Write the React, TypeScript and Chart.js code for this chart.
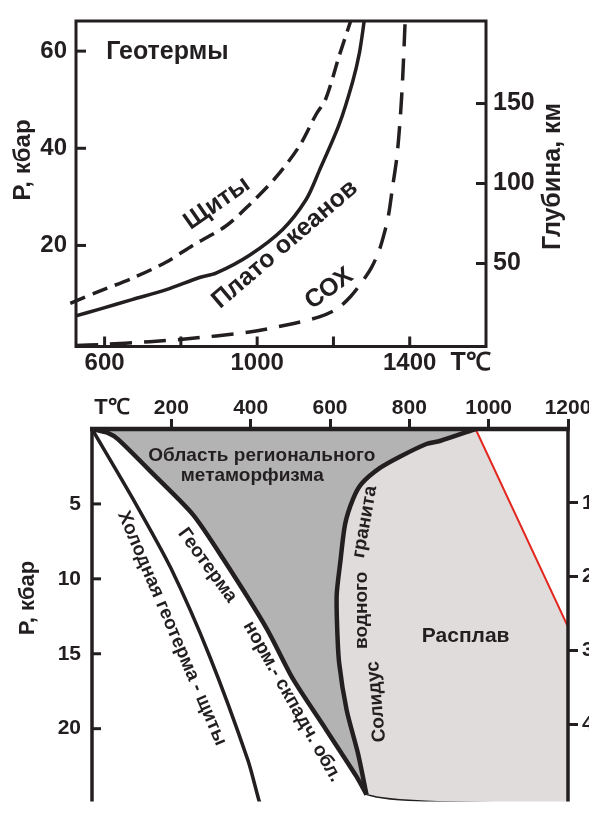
import React, { useEffect, useRef } from "react";
import { Chart, registerables } from "chart.js";
Chart.register(...registerables);

const INK = "#231f20";
const FONT = "'Liberation Sans', Arial, Helvetica, sans-serif";

// ---------- top chart: geotherms (T, °C vs P, kbar) ----------
const topTempTicks = [600, 800, 1000, 1200, 1400];
const topTempLabels = [600, 1000, 1400];
const topPressureTicks = [20, 40, 60];
const topDepthTicks = [50, 100, 150];

const shieldsT = [510, 587, 674, 762, 831, 918, 980, 1050, 1111, 1154, 1180, 1215, 1246];
const shieldsP = [8.1, 10.6, 13.3, 16.6, 20.0, 24.0, 28.4, 34.1, 40.5, 46.9, 50.2, 59.0, 66.4];

const plateauT = [525, 587, 674, 762, 849, 892, 980, 1067, 1128, 1163, 1215, 1250, 1268, 1281];
const plateauP = [5.5, 6.9, 8.9, 10.9, 13.4, 14.3, 18.0, 23.3, 29.4, 35.4, 44.9, 53.6, 59.6, 66.4];

const ridgeT = [525, 590, 718, 805, 980, 1093, 1163, 1210, 1245, 1275, 1300, 1320, 1335, 1345, 1355, 1366, 1374, 1381, 1388];
const ridgeP = [-0.6, -0.4, 0.2, 0.7, 2.2, 3.9, 5.3, 7.0, 9.5, 12.5, 15.5, 19.0, 23.0, 26.5, 32.0, 38.0, 45.0, 53.6, 66.2];

const topNotes = [
  { text: "Геотермы", t: 604, p: 59.7, angle: 0, align: "left" },
  { text: "Щиты", t: 895, p: 28.7, angle: -35, align: "center" },
  { text: "Плато океанов", t: 1073, p: 20.2, angle: -40.6, align: "center" },
  { text: "СОХ", t: 1189, p: 11.1, angle: -36, align: "center" },
];

// ---------- bottom chart: regional metamorphism ----------
const botTempTicks = [200, 400, 600, 800, 1000, 1200];
const botPressureTicks = [5, 10, 15, 20];
const botDepthTicks = [10, 20, 30, 40];

const coldT = [0, 104, 199, 297, 393, 421, 428];
const coldP = [0, 4.7, 9.3, 15.2, 22.1, 24.8, 25.3];

const normalT = [0, 41, 66, 159, 255, 331, 440, 507, 591, 667, 692];
const normalP = [0, 0.27, 0.69, 3.13, 5.73, 8.68, 13.3, 16.7, 20.1, 23.2, 24.4];

const solidusT = [967, 877, 843, 776, 726, 680, 658, 638, 626, 617, 618, 623, 642, 671, 692];
const solidusP = [0, 0.8, 1.0, 1.85, 2.6, 3.64, 4.68, 6.36, 8.88, 11.0, 13.2, 15.6, 18.76, 21.7, 24.4];

const meltBaseT = [692, 726, 776, 900, 1200];
const meltBaseP = [24.4, 24.6, 24.75, 24.9, 25.0];

const liquidusT = [967, 1200];
const liquidusP = [0, 13.2];

const bottomNotes = [
  { text: "Область регионального", t: 428, p: 1.79, angle: 0, big: false },
  { text: "метаморфизма", t: 404, p: 3.11, angle: 0, big: false },
  { text: "Холодная геотерма - щиты", t: 201.6, p: 13.3, angle: 67, big: false },
  { text: "Геотерма", t: 291, p: 9.1, angle: 54, big: false },
  { text: "норм.- скпадч. обл.", t: 505, p: 18.2, angle: 60.5, big: false },
  { text: "Солидус", t: 717, p: 18.2, angle: -95, big: false },
  { text: "водного", t: 679, p: 12.1, angle: -90, big: false },
  { text: "гранита", t: 688, p: 6.2, angle: -80, big: false },
  { text: "Расплав", t: 942, p: 13.86, angle: 0, big: true },
];

const xy = (ts: number[], ps: number[]) => ts.map((t, i) => ({ x: t, y: ps[i] }));

function drawText(ctx: CanvasRenderingContext2D, text: string, x: number, y: number, size: number, angle: number, align: CanvasTextAlign) {
  ctx.save();
  ctx.translate(x, y);
  ctx.rotate((angle * Math.PI) / 180);
  ctx.font = `bold ${size}px ${FONT}`;
  ctx.fillStyle = INK;
  ctx.textAlign = align;
  ctx.textBaseline = "middle";
  ctx.fillText(text, 0, 0);
  ctx.restore();
}

function seg(ctx: CanvasRenderingContext2D, x1: number, y1: number, x2: number, y2: number) {
  ctx.beginPath();
  ctx.moveTo(x1, y1);
  ctx.lineTo(x2, y2);
  ctx.stroke();
}

const tickFont = (size: number) => ({ family: FONT, size, weight: "bold" as const, lineHeight: 1 });
const plain = (v: number) => String(v);

const topDecor = {
  id: "topDecor",
  afterDraw(chart: any) {
    const { ctx, chartArea: a, scales } = chart;
    ctx.save();
    ctx.strokeStyle = INK;
    ctx.lineWidth = 3;
    ctx.strokeRect(a.left, a.top, a.right - a.left, a.bottom - a.top);
    for (const v of topPressureTicks) {
      const y = scales.y.getPixelForValue(v);
      seg(ctx, a.left, y, a.left + 10, y);
    }
    for (const v of topDepthTicks) {
      const y = scales.y1.getPixelForValue(v);
      seg(ctx, a.right - 10, y, a.right, y);
    }
    for (const v of topTempTicks) {
      const x = scales.x.getPixelForValue(v);
      seg(ctx, x, a.bottom, x, a.bottom - 10);
    }
    ctx.restore();
    for (const n of topNotes) {
      drawText(ctx, n.text, scales.x.getPixelForValue(n.t), scales.y.getPixelForValue(n.p), 25, n.angle, n.align as CanvasTextAlign);
    }
    drawText(ctx, "P, кбар", a.left - 52.5, 160, 24, -90, "center");
    drawText(ctx, "Глубина, км", a.right + 67.5, 176.5, 25, -90, "center");
    drawText(ctx, "T℃", scales.x.getPixelForValue(1400) + 61, a.bottom + 17, 25, 0, "center");
  },
};

const bottomDecor = {
  id: "bottomDecor",
  afterDraw(chart: any) {
    const { ctx, chartArea: a, scales } = chart;
    ctx.save();
    ctx.strokeStyle = INK;
    ctx.lineWidth = 3.5;
    seg(ctx, a.left, a.top, a.left, a.bottom);
    seg(ctx, a.right, a.top, a.right, a.bottom);
    ctx.lineWidth = 4.5;
    seg(ctx, a.left - 2, a.top, a.right + 1.75, a.top);
    ctx.lineWidth = 3;
    for (const v of botPressureTicks) {
      const y = scales.y.getPixelForValue(v);
      seg(ctx, a.left, y, a.left + 9, y);
    }
    ctx.restore();
    for (const n of bottomNotes) {
      drawText(ctx, n.text, scales.x.getPixelForValue(n.t), scales.y.getPixelForValue(n.p), n.big ? 21 : 19, n.angle, "center");
    }
    drawText(ctx, "T℃", a.left + 20, a.top - 21.5, 22, 0, "center");
    drawText(ctx, "P, кбар", a.left - 64, 213, 22, -90, "center");
  },
};

function topConfig(): any {
  const line = (data: any[], dash: number[], extra: any = {}) => ({
    data,
    borderColor: INK,
    borderWidth: 3.5,
    borderDash: dash,
    borderCapStyle: "butt",
    pointRadius: 0,
    tension: 0.3,
    fill: false,
    ...extra,
  });
  return {
    type: "line",
    data: {
      datasets: [
        line(xy(shieldsT, shieldsP), [16, 8], { clip: { left: 10, top: 0, right: 0, bottom: 0 } }),
        line(xy(plateauT, plateauP), []),
        line(xy(ridgeT, ridgeP), [22, 12]),
      ],
    },
    options: {
      responsive: false,
      devicePixelRatio: 1,
      animation: false,
      events: [],
      layout: { padding: { top: 14, left: 0, right: 0, bottom: 0 } },
      plugins: { legend: { display: false }, tooltip: { enabled: false } },
      scales: {
        x: {
          type: "linear",
          position: "bottom",
          min: 525,
          max: 1600,
          afterBuildTicks: (s: any) => {
            s.ticks = topTempTicks.map((v) => ({ value: v }));
          },
          ticks: {
            callback: (v: number) => (topTempLabels.includes(v) ? String(v) : ""),
            font: tickFont(24),
            color: INK,
            padding: 5,
            maxRotation: 0,
            autoSkip: false,
          },
          grid: { display: false, drawTicks: false },
          border: { display: false },
          afterFit: (s: any) => {
            s.height = 38.5;
            s.paddingLeft = 0;
            s.paddingRight = 0;
          },
        },
        y: {
          type: "linear",
          position: "left",
          min: -0.8,
          max: 66.2,
          afterBuildTicks: (s: any) => {
            s.ticks = topPressureTicks.map((v) => ({ value: v }));
          },
          ticks: { font: tickFont(24), color: INK, padding: 9, callback: plain },
          grid: { display: false, drawTicks: false },
          border: { display: false },
          afterFit: (s: any) => {
            s.width = 76;
          },
        },
        y1: {
          type: "linear",
          position: "right",
          min: -1.9,
          max: 201.6,
          afterBuildTicks: (s: any) => {
            s.ticks = topDepthTicks.map((v) => ({ value: v }));
          },
          ticks: { font: tickFont(25), color: INK, padding: 7, callback: plain },
          grid: { display: false, drawTicks: false },
          border: { display: false },
          afterFit: (s: any) => {
            s.width = 103;
          },
        },
      },
    },
    plugins: [topDecor],
  };
}

function bottomConfig(): any {
  const darkRegion = [...xy(normalT, normalP), ...xy(solidusT, solidusP).reverse().slice(1), { x: 0, y: 0 }];
  const meltRegion = [
    ...xy(solidusT, solidusP),
    ...xy(meltBaseT, meltBaseP).slice(1),
    ...xy(liquidusT, liquidusP).reverse(),
  ];
  const area = (data: any[], color: string, order: number) => ({
    data,
    borderColor: "transparent",
    borderWidth: 0,
    backgroundColor: color,
    pointRadius: 0,
    tension: 0,
    fill: "shape",
    order,
  });
  const line = (data: any[], width: number, color: string, order: number, tension = 0.25) => ({
    data,
    borderColor: color,
    borderWidth: width,
    pointRadius: 0,
    tension,
    fill: false,
    borderJoinStyle: "round",
    order,
  });
  const depthMax = 24.86 * 2.03;
  return {
    type: "line",
    data: {
      datasets: [
        area(darkRegion, "#b3b3b3", 10),
        area(meltRegion, "#e0dcdc", 9),
        line(xy(liquidusT, liquidusP), 2, "#e3261e", 3, 0),
        line(xy(meltBaseT, meltBaseP), 1.5, INK, 3),
        line(xy(solidusT, solidusP), 4.5, INK, 2),
        line(xy(normalT, normalP), 4.5, INK, 2),
        line(xy(coldT, coldP), 3.5, INK, 2),
      ],
    },
    options: {
      responsive: false,
      devicePixelRatio: 1,
      animation: false,
      events: [],
      layout: { padding: 0 },
      plugins: { legend: { display: false }, tooltip: { enabled: false } },
      scales: {
        x: {
          type: "linear",
          position: "top",
          min: 0,
          max: 1200,
          afterBuildTicks: (s: any) => {
            s.ticks = botTempTicks.map((v) => ({ value: v }));
          },
          ticks: { font: tickFont(21), color: INK, padding: 0, maxRotation: 0, autoSkip: false, callback: plain },
          grid: {
            display: true,
            drawOnChartArea: false,
            drawTicks: true,
            tickLength: 10,
            tickWidth: 3,
            tickColor: INK,
            color: INK,
            lineWidth: 3,
          },
          border: { display: false },
          afterFit: (s: any) => {
            s.height = 44;
            s.paddingLeft = 0;
            s.paddingRight = 0;
          },
        },
        y: {
          type: "linear",
          position: "left",
          reverse: true,
          min: 0,
          max: 24.86,
          afterBuildTicks: (s: any) => {
            s.ticks = botPressureTicks.map((v) => ({ value: v }));
          },
          ticks: { font: tickFont(21), color: INK, padding: 11, callback: plain },
          grid: { display: false, drawTicks: false },
          border: { display: false },
          afterFit: (s: any) => {
            s.width = 92;
          },
        },
        y1: {
          type: "linear",
          position: "right",
          reverse: true,
          min: 0,
          max: depthMax,
          afterBuildTicks: (s: any) => {
            s.ticks = botDepthTicks.map((v) => ({ value: v }));
          },
          ticks: { font: tickFont(21), color: INK, padding: 4, callback: plain },
          grid: {
            display: true,
            drawOnChartArea: false,
            drawTicks: true,
            tickLength: 10,
            tickWidth: 3,
            tickColor: INK,
            color: INK,
            lineWidth: 3,
          },
          border: { display: false },
          afterFit: (s: any) => {
            s.width = 21;
          },
        },
      },
    },
    plugins: [bottomDecor],
  };
}

export default function App() {
  const topRef = useRef<HTMLCanvasElement>(null);
  const botRef = useRef<HTMLCanvasElement>(null);
  useEffect(() => {
    const c1 = new Chart(topRef.current as HTMLCanvasElement, topConfig());
    const c2 = new Chart(botRef.current as HTMLCanvasElement, bottomConfig());
    return () => {
      c1.destroy();
      c2.destroy();
    };
  }, []);
  return (
    <div style={{ position: "absolute", left: 0, top: 0, width: 589, height: 823, overflow: "hidden", background: "#fff" }}>
      <canvas ref={topRef} width={589} height={385} style={{ position: "absolute", left: 0, top: 0, width: 589, height: 385 }} />
      <canvas ref={botRef} width={589} height={438} style={{ position: "absolute", left: 0, top: 385, width: 589, height: 438 }} />
    </div>
  );
}
